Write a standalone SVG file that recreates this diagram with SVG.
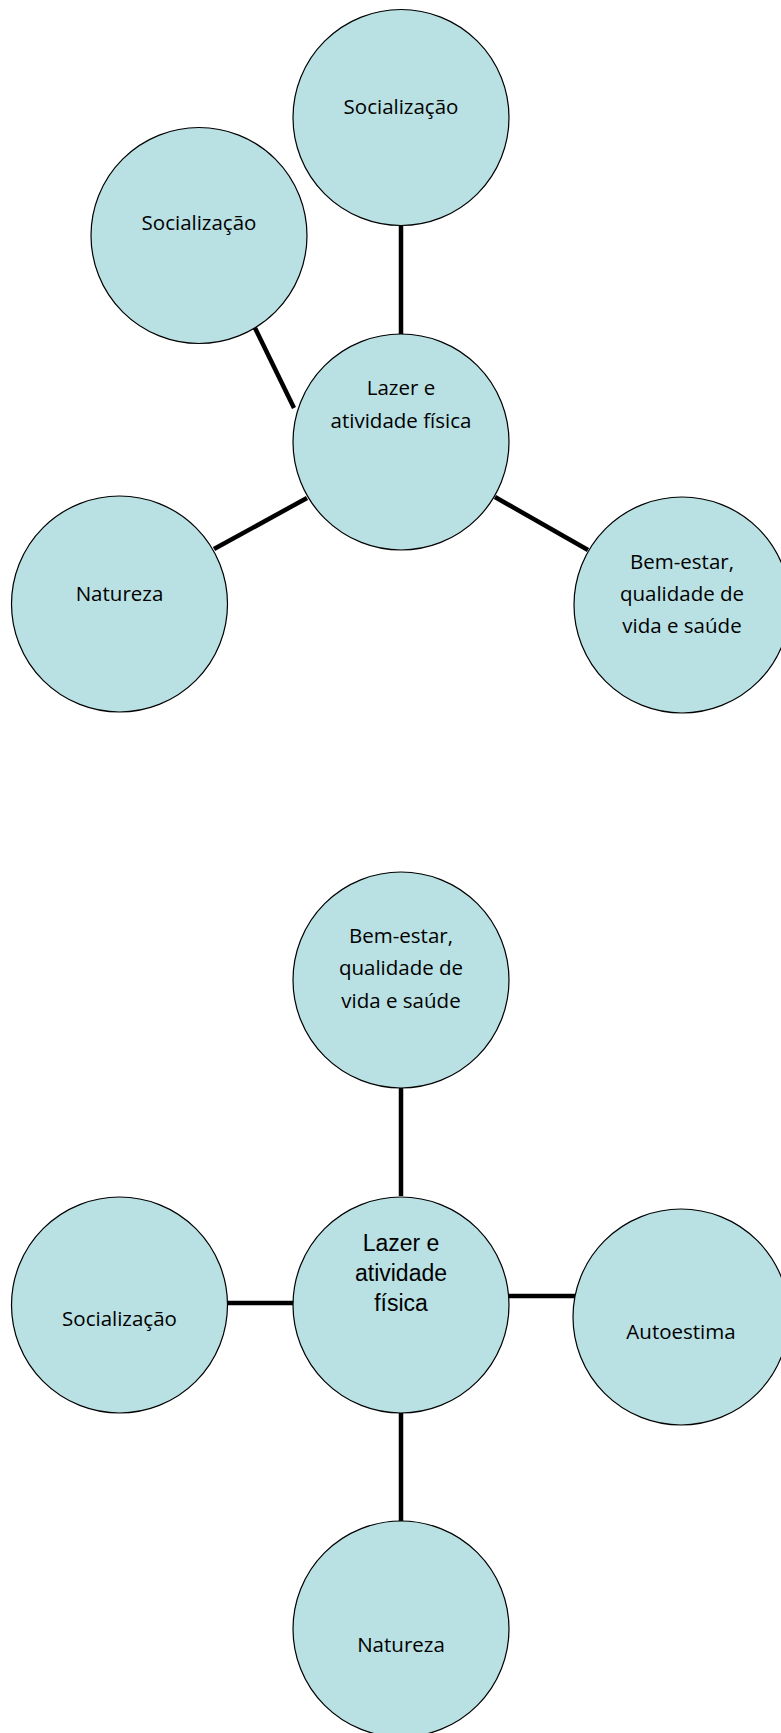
<svg xmlns="http://www.w3.org/2000/svg" width="781" height="1733" viewBox="0 0 781 1733">
<style>
.n{fill:#b9e0e3;stroke:#000;stroke-width:1.2}
.t{font-family:"Open Sans","Liberation Sans",sans-serif;font-size:20.5px;fill:#000;text-anchor:middle}
.a{font-family:"Liberation Sans",Arial,sans-serif;font-size:23px;fill:#000;text-anchor:middle}
.c line{stroke:#000;stroke-width:4.5}
</style>
<rect width="781" height="1733" fill="#fff"/>
<g class="c" id="connectors">
<line x1="401" y1="226" x2="401" y2="335"/>
<line x1="255" y1="328" x2="294" y2="408"/>
<line x1="214" y1="549" x2="307" y2="498"/>
<line x1="495" y1="497" x2="588" y2="550"/>
<line x1="401" y1="1088" x2="401" y2="1196"/>
<line x1="228" y1="1303" x2="294" y2="1303"/>
<line x1="507" y1="1296" x2="575" y2="1296"/>
<line x1="401" y1="1413" x2="401" y2="1521"/>
</g>
<g id="top-socializacao"><circle class="n" cx="401" cy="117.5" r="108"/><text class="t" x="401" y="114">Socialização</text></g>
<g id="left-socializacao"><circle class="n" cx="199" cy="235.5" r="108"/><text class="t" x="199" y="230">Socialização</text></g>
<g id="center-1"><circle class="n" cx="401" cy="442" r="108"/><text class="t" x="401" y="395">Lazer e</text><text class="t" x="401" y="428">atividade física</text></g>
<g id="natureza-1"><circle class="n" cx="119.5" cy="604" r="108"/><text class="t" x="119.5" y="601">Natureza</text></g>
<g id="bemestar-1"><circle class="n" cx="682" cy="605" r="108"/><text class="t" x="682" y="569">Bem-estar,</text><text class="t" x="682" y="601">qualidade de</text><text class="t" x="682" y="633">vida e saúde</text></g>
<g id="bemestar-2"><circle class="n" cx="401" cy="980" r="108"/><text class="t" x="401" y="943">Bem-estar,</text><text class="t" x="401" y="975">qualidade de</text><text class="t" x="401" y="1008">vida e saúde</text></g>
<g id="center-2"><circle class="n" cx="401" cy="1305" r="108"/><text class="a" x="401" y="1251">Lazer e</text><text class="a" x="401" y="1281">atividade</text><text class="a" x="401" y="1311">física</text></g>
<g id="socializacao-2"><circle class="n" cx="119.5" cy="1305" r="108"/><text class="t" x="119.5" y="1326">Socialização</text></g>
<g id="autoestima"><circle class="n" cx="681" cy="1317" r="108"/><text class="t" x="681" y="1339">Autoestima</text></g>
<g id="natureza-2"><circle class="n" cx="401" cy="1629" r="108"/><text class="t" x="401" y="1652">Natureza</text></g>
</svg>
